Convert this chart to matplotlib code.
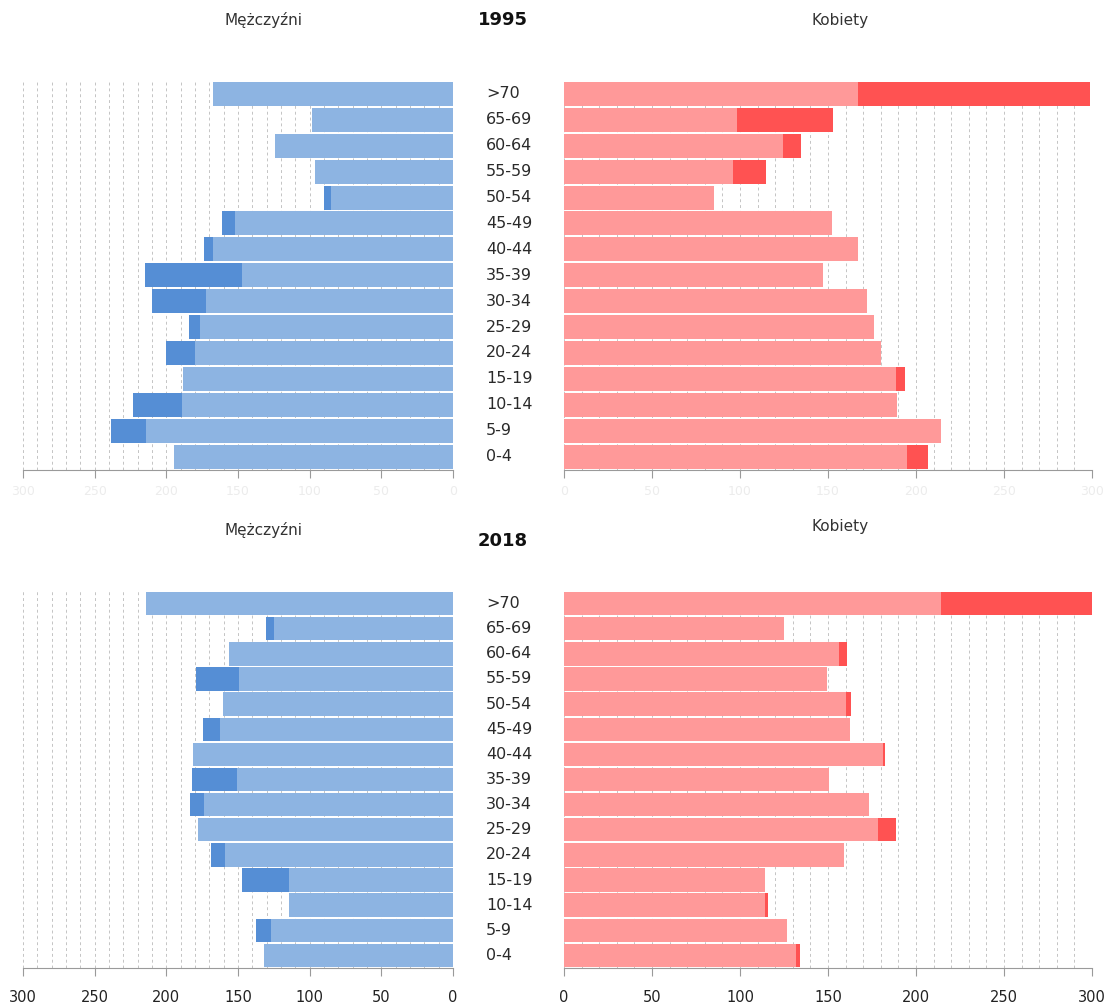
import matplotlib.pyplot as plt
import numpy as np
from matplotlib.transforms import blended_transform_factory

# age groups, bottom to top
ages = ['0-4', '5-9', '10-14', '15-19', '20-24', '25-29', '30-34', '35-39',
        '40-44', '45-49', '50-54', '55-59', '60-64', '65-69', '>70']

# values (the light part is what both sexes share)
men_1995 = [195.0, 238.7, 223.5, 188.5, 200.1, 184.1, 210.2, 215.2,
            173.8, 161.2, 89.7, 96.0, 124.3, 98.4, 167.1]
women_1995 = [206.6, 214.3, 189.2, 193.8, 180.0, 176.2, 172.0, 147.1,
              167.2, 152.2, 85.0, 115.0, 134.9, 152.8, 298.6]
men_2018 = [132.1, 137.1, 114.2, 147.1, 168.9, 178.2, 183.4, 182.4,
            181.3, 174.7, 160.4, 179.1, 156.3, 130.3, 214.4]
women_2018 = [134.3, 126.8, 115.7, 114.2, 159.0, 188.4, 173.4, 150.4,
              182.3, 162.3, 163.1, 149.3, 161.0, 125.0, 300.0]

ticks_men = [300, 250, 200, 150, 100, 50, 0]
ticks_women = [0, 50, 100, 150, 200, 250, 300]

BLUE_LIGHT, BLUE_DARK = '#8DB4E2', '#558ED5'
RED_LIGHT, RED_DARK = '#FF9999', '#FF5252'

W, H = 1107, 1007
fig = plt.figure(figsize=(W / 100, H / 100), dpi=100)


def px_box(left, top, right, bottom):
    return [left / W, 1 - bottom / H, (right - left) / W, (bottom - top) / H]


def draw_panel(ax, own, other, light, dark, ticks, faint_labels):
    own = np.array(own)
    other = np.array(other)
    y = np.arange(len(ages))
    common = np.minimum(own, other)
    extra = np.clip(own - other, 0, None)
    ax.barh(y, common, height=0.93, color=light, zorder=2)
    ax.barh(y, extra, left=common, height=0.93, color=dark, zorder=2)
    ax.set_xlim(0, 300)
    ax.set_ylim(-0.5, len(ages) - 0.5)
    ax.set_xticks(ticks)
    ax.set_xticks(np.arange(0, 301, 10), minor=True)
    ax.grid(axis='x', which='both', color='#c4c4c4', linestyle=(0, (3, 3)),
            linewidth=0.7, zorder=0)
    ax.set_yticks([])
    for s in ['top', 'left', 'right']:
        ax.spines[s].set_visible(False)
    ax.spines['bottom'].set_color('#9a9a9a')
    ax.tick_params(axis='x', which='minor', length=0)
    if faint_labels:
        ax.tick_params(axis='x', which='major', length=6, color='#9a9a9a',
                       labelsize=9, labelcolor='#ececec', pad=5)
    else:
        ax.tick_params(axis='x', which='major', length=6, color='#9a9a9a',
                       labelsize=10.5, labelcolor='#222222', pad=10)


rows = [
    ('1995', men_1995, women_1995, 81, 469.5, True, 20, 20, 20),
    ('2018', men_2018, women_2018, 591, 968, False, 530, 527, 541),
]

for year, men, women, top, bottom, faint, y_m, y_k, y_year in rows:
    ax_m = fig.add_axes(px_box(23, top, 453, bottom))
    ax_k = fig.add_axes(px_box(564, top, 1092, bottom))
    draw_panel(ax_m, men, women, BLUE_LIGHT, BLUE_DARK, ticks_men, faint)
    draw_panel(ax_k, women, men, RED_LIGHT, RED_DARK, ticks_women, faint)
    ax_m.invert_xaxis()

    # age labels between the two panels
    tr = blended_transform_factory(fig.transFigure, ax_m.transData)
    for i, a in enumerate(ages):
        ax_m.text(486 / W, i, a, transform=tr, ha='left', va='center',
                  fontsize=11.5, color='#2a2a2a', clip_on=False)

    fig.text(264 / W, 1 - y_m / H, 'Mężczyźni', ha='center', va='center',
             fontsize=11, color='#333333')
    fig.text(840 / W, 1 - y_k / H, 'Kobiety', ha='center', va='center',
             fontsize=11, color='#333333')
    fig.text(503 / W, 1 - y_year / H, year, ha='center', va='center',
             fontsize=13, fontweight='bold', color='#111111')

fig.savefig('out.png', dpi=100, facecolor='white')
